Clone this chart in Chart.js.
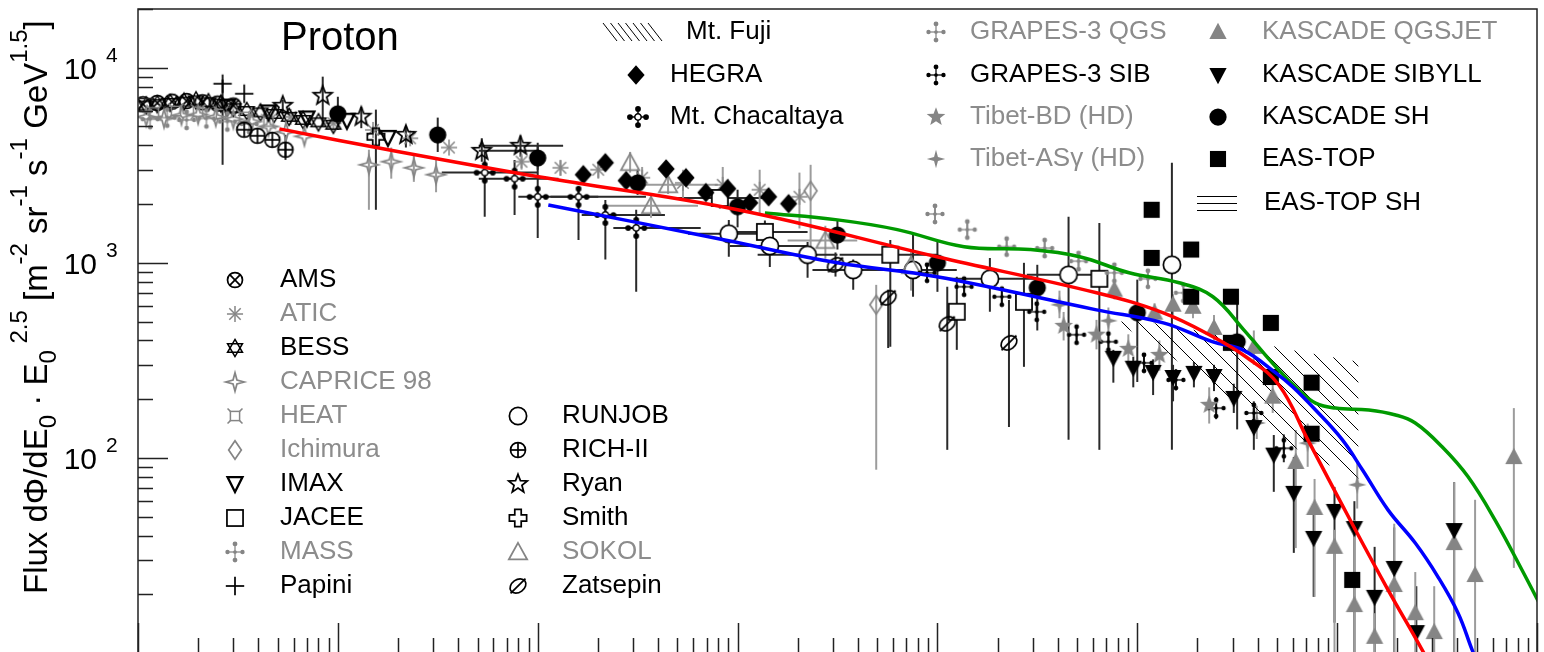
<!DOCTYPE html>
<html>
<head>
<meta charset="utf-8">
<title>Proton flux</title>
<script src="https://cdn.jsdelivr.net/npm/chart.js@4.4.0/dist/chart.umd.min.js"></script>
<style>
  html, body { margin: 0; padding: 0; background: #fff; overflow: hidden; }
  #wrap { position: relative; width: 1544px; height: 700px; }
</style>
</head>
<body>
<div id="wrap"><canvas id="c"></canvas></div>
<script>
// E in GeV, flux = E^2.5 dPhi/dE  [m^-2 sr^-1 s^-1 GeV^1.5]
// rows: [E, flux, fluxLow, fluxHigh, Elow, Ehigh]
const ams = [[10.6,6500],[12.5,6600],[14.8,6700],[17.5,6750],[21,6650],[25,6550],[30,6400]];
const atic = [[58,5600],[95,5200],[150,4800],[230,4350],[360,3900],[830,3300,3050,3550],[1300,3070,2800,3350],[2010,3000,2700,3300],[3330,2730,2350,3100],[5330,2570,2150,3000],[8430,2510,2000,3100],[12900,2370,1800,3000],[20400,2180,1500,2900]];
const bess = [[11,6400],[12.5,6500],[14.5,6600],[17,6700],[19.5,6800],[22.5,6650],[26,6550],[30,6200],[35,6000],[41,5900],[48,5800],[57,5600],[67,5400],[80,5250],[95,5100]];
const caprice = [[11,5600],[13.5,5500],[16.5,5700],[20,5750],[24.5,5600],[30,5450],[37,5300],[45,5000],[55,4700],[68,4450],[143,3180,1870,3800],[185,3300,2700,3900],[240,3070,2600,3650],[310,2830,2300,3400]];
const heat = [[12,5900],[15.5,6000],[20,5950],[26,5800],[34,5600],[45,5300]];
const ichimura = [[23200,2340,1170,3180],[49400,610,87,771]];
const imax = [[28,6300],[45,5900],[70,5500],[111,5350],[178,4370]];
const jacee = [[8150,2150,1900,2400,4650,14200],[13700,1440,1250,1650,9140,22400],[58100,1100,371,1310,32400,99500],[125000,561,358,848],[271000,631,293,1000],[646000,828,110,1600]];
const mass = [[11.5,5450],[14,5550],[17.5,5400],[22,5500],[28,5300],[36,5150]];
const papini = [[26.5,8280,3180,8700],[34,7360]];
const runjob = [[9040,1410,1074,1660,5650,14200],[14500,1220,953,1430,9140,22400],[22400,1100,838,1280,12600,31600],[37900,920,728,1040,23700,54200],[75500,920,670,1430,44600,125000],[183000,828,561,1060,112000,314000],[453000,868,124,1720,280000,700000],[1490000,977,110,3260]];
const rich = [[34,4810],[39.6,4480],[47,4270],[54.7,3800,3370,4530]];
const ryan = [[53,6380,5850,6850],[84,7180,5000,9000],[131,5610,4900,6300],[219,4530,3900,5000],[525,3750,3300,4350,507,1010],[820,3980,3500,4500,507,1340]];
const smith = [[155,4430,1870,6100]];
const sokol = [[2900,3260,2900,3700],[3690,1960,1700,2250,2250,6340],[4490,2510,2250,2850,3180,7960],[27500,1300,1050,1550,17800,39700],[73800,966,720,1150]];
const zatsepin = [[30900,977,850,1130],[56700,662,366,728],[112000,487,110,754],[228000,389,144,645]];
const hegra = [[1690,2830],[2180,3260],[2770,2640],[4390,3030],[5520,2730],[6940,2290],[8930,2400],[11500,2030],[14300,2180],[18000,2010]];
const chacaltaya = [[543,2900,1720,3800,331,1000],[766,2700,1760,3370,507,1270],[1000,2180,1340,4120,800,2010],[1600,2180,1310,2370,1160,3480],[2180,1760,1040,2100,1660,4330],[3110,1510,710,1870,2390,6540]];
const grapesQgs = [[97200,1780,1620,1960],[141000,1480,1350,1620],[222000,1210,1100,1330],[344000,1190,1080,1310],[508000,1020,920,1130],[768000,889,800,990],[1130000,828,740,920],[1700000,702,620,790]];
const grapesSib = [[88700,889,810,975],[136000,754,690,830],[210000,670,610,740],[314000,561,510,620],[497000,428,385,475],[717000,394,355,440],[1080000,307,275,345],[1560000,251,222,285],[2480000,180,158,205],[3830000,170,148,195],[5410000,112,95,132]];
const tibetBd = [[428000,475,400,560],[625000,428,360,510],[902000,362,300,430],[1290000,337,280,400],[2290000,187,150,230]];
const tibetAs = [[408000,610,520,720],[717000,505,430,590],[3960000,151,125,185],[7120000,119,90,150],[12600000,72.8,55,95]];
const kascadeQgs = [[768000,728,650,810],[1220000,555,490,620],[1510000,610,540,690],[1900000,595,520,670],[2420000,464,400,540],[3830000,371,300,450],[4760000,206,170,250],[6210000,95.3,34.5,139],[7710000,55.4,19.4,78],[9700000,35,5,42.8],[12200000,17.6,5,48],[15400000,12.1,5,16],[19300000,22.3,5,46],[24600000,16,5,26],[30600000,12.8,5,22],[38500000,36.6,5,75],[49000000,25.1,5,61],[76600000,101,27.3,180]];
const kascadeSib = [[759000,326,243,358],[955000,290,230,330],[1200000,276,210,320],[1510000,260,195,300],[1920000,273,230,310],[2420000,263,220,300],[3040000,203,170,240],[3830000,144,110,180],[4820000,104,67,131],[6070000,66.2,32.6,101],[7630000,38.9,19.4,54],[9700000,53.5,14.3,71],[12200000,43.7,8,60],[15400000,19.4,5,35],[19300000,27.3,5,44],[24900000,12.8,5,22],[38500000,42.7,5,75]];
const kascadeSh = [[100,5810,4800,7100],[316,4530,3700,5550],[1000,3450,3000,4000],[3160,2570,2230,3000],[10000,1940,1520,2370],[31600,1390,1170,1650],[100000,1000,710,1310],[316000,745,450,977],[1000000,555,245,820],[3160000,394,140,700]];
const easTop = [[1180000,1870],[1180000,1060],[1860000,1170],[1860000,670],[2940000,670],[2940000,389],[4660000,492],[4660000,260],[7450000,243],[7450000,133],[11900000,23.7]];

// model curves
const redE = [51,202,1010,10000,99500,625000,1350000,2390000,3490000,5100000,7130000,12200000,18000000,27000000,30900000];
const redF = [4860,3710,2760,1870,1074,702,554,418,330,237,124,43.7,21,10.1,7.7];
const blueE = [1130,8630,31600,99500,625000,1350000,2390000,3370000,4930000,6000000,7800000,10600000,13400000,18000000,24600000,32000000,40300000,47300000,52000000];
const blueF = [1980,1310,1000,848,574,492,393,358,273,231,176,124,86.7,54,36.6,24.5,16,10.4,8.2];
const greenE = [13700,31600,63000,136000,290000,515000,910000,1620000,2390000,3410000,4930000,6430000,7800000,9820000,14400000,19600000,24600000,33500000,45200000,61700000,84000000,110000000];
const greenF = [1800,1660,1480,1210,1170,1075,889,790,670,453,293,223,191,180,176,166,151,114,80,48,26.7,15.7];

// Mt. Fuji band
const fujiE = [832000,1560000,3010000,5530000,12800000];
const fujiHigh = [523,470,418,362,311];
const fujiLow = [481,318,198,119,77];

const BLACK = '#000000', GRAY = '#858585';

function makeSym(kind, col) {
  const c = document.createElement('canvas');
  c.width = 28; c.height = 28;
  const g = c.getContext('2d');
  g.translate(14, 14);
  g.scale(1.15, 1.15);
  g.strokeStyle = col; g.fillStyle = col; g.lineWidth = 1.5;
  const poly = (p, fill) => {
    g.beginPath();
    p.forEach((q, i) => i ? g.lineTo(q[0], q[1]) : g.moveTo(q[0], q[1]));
    g.closePath();
    fill ? g.fill() : g.stroke();
  };
  const star = (n, ro, ri) => {
    const p = [];
    for (let i = 0; i < 2 * n; i++) {
      const r = i % 2 ? ri : ro, a = -Math.PI / 2 + i * Math.PI / n;
      p.push([r * Math.cos(a), r * Math.sin(a)]);
    }
    return p;
  };
  const seg = (x1, y1, x2, y2) => { g.beginPath(); g.moveTo(x1, y1); g.lineTo(x2, y2); g.stroke(); };
  const dot = (x, y, r) => { g.beginPath(); g.arc(x, y, r, 0, 7); g.fill(); };
  const tri = (r, a0) => [0, 1, 2].map(i => [r * Math.cos(a0 + i * 2 * Math.PI / 3), r * Math.sin(a0 + i * 2 * Math.PI / 3)]);
  switch (kind) {
    case 'circle': dot(0, 0, 7.5); break;
    case 'ocircle': g.beginPath(); g.arc(0, 0, 7.5, 0, 7); g.fillStyle = '#fff'; g.fill(); g.stroke(); break;
    case 'square': g.fillRect(-7, -7, 14, 14); break;
    case 'osquare': g.fillStyle = '#fff'; g.fillRect(-7, -7, 14, 14); g.strokeRect(-7, -7, 14, 14); break;
    case 'diamond': poly([[0, -8.5], [7.5, 0], [0, 8.5], [-7.5, 0]], true); break;
    case 'odiamond': poly([[0, -8], [5.5, 0], [0, 8], [-5.5, 0]]); break;
    case 'triUp': poly([[0, -8], [7.5, 6], [-7.5, 6]], true); break;
    case 'otriUp': poly([[0, -8], [8, 6.5], [-8, 6.5]]); break;
    case 'triDown': poly([[0, 8], [7.5, -6], [-7.5, -6]], true); break;
    case 'otriDown': g.lineWidth = 2; poly([[0, 7], [6.5, -6], [-6.5, -6]]); break;
    case 'ostar': poly(star(5, 8.5, 3.6)); break;
    case 'fstar': poly(star(5, 8.5, 3.6), true); break;
    case 'star4o': poly(star(4, 8, 2.4)); break;
    case 'star4f': poly(star(4, 8, 2.4), true); break;
    case 'asterisk':
      g.lineWidth = 1.3;
      for (let i = 0; i < 4; i++) { const a = i * Math.PI / 4; seg(-7 * Math.cos(a), -7 * Math.sin(a), 7 * Math.cos(a), 7 * Math.sin(a)); }
      break;
    case 'david':
      g.lineWidth = 1.3;
      poly(tri(7.5, -Math.PI / 2)); poly(tri(7.5, Math.PI / 2));
      break;
    case 'plus': seg(-8, 0, 8, 0); seg(0, -8, 0, 8); break;
    case 'otimes':
      g.beginPath(); g.arc(0, 0, 6.5, 0, 7); g.stroke();
      seg(-4.6, -4.6, 4.6, 4.6); seg(-4.6, 4.6, 4.6, -4.6);
      break;
    case 'oplus':
      g.beginPath(); g.arc(0, 0, 6.5, 0, 7); g.stroke();
      seg(-6.5, 0, 6.5, 0); seg(0, -6.5, 0, 6.5);
      break;
    case 'ocross': {
      const a = 2.8, b = 7.5;
      poly([[-a, -b], [a, -b], [a, -a], [b, -a], [b, a], [a, a], [a, b], [-a, b], [-a, a], [-b, a], [-b, -a], [-a, -a]]);
      break;
    }
    case 'oslash':
      g.beginPath(); g.ellipse(0, 0, 7.5, 5.5, -Math.PI / 5, 0, 7); g.stroke();
      seg(-6.5, 6.5, 6.5, -6.5);
      break;
    case 'heat':
      g.lineWidth = 1.3;
      g.strokeRect(-4, -4, 8, 8);
      seg(4, 4, 6.5, 6.5); seg(-4, 4, -6.5, 6.5); seg(4, -4, 6.5, -6.5); seg(-4, -4, -6.5, -6.5);
      break;
    case 'dotcross':
      g.lineWidth = 1.1;
      seg(-7, 0, 7, 0); seg(0, -7.5, 0, 7.5);
      dot(0, -7, 2.1); dot(0, 7, 2.1); dot(-6.5, 0, 1.9); dot(6.5, 0, 1.9); dot(0, 0, 1.6);
      break;
    case 'chacal':
      g.lineWidth = 1.3;
      seg(-8, 0, 8, 0); seg(0, -8, 0, 8);
      dot(0, -7, 2.5); dot(0, 7, 2.5); dot(-7, 0, 2.5); dot(7, 0, 2.5);
      g.beginPath(); g.arc(0, 0, 2.8, 0, 7); g.fillStyle = '#fff'; g.fill(); g.stroke();
      break;
  }
  return c;
}

const SERIES = [
  ['AMS', ams, 'otimes', BLACK],
  ['ATIC', atic, 'asterisk', GRAY],
  ['BESS', bess, 'david', BLACK],
  ['CAPRICE 98', caprice, 'star4o', GRAY],
  ['HEAT', heat, 'heat', GRAY],
  ['Ichimura', ichimura, 'odiamond', GRAY],
  ['IMAX', imax, 'otriDown', BLACK],
  ['JACEE', jacee, 'osquare', BLACK],
  ['MASS', mass, 'dotcross', GRAY],
  ['Papini', papini, 'plus', BLACK],
  ['RUNJOB', runjob, 'ocircle', BLACK],
  ['RICH-II', rich, 'oplus', BLACK],
  ['Ryan', ryan, 'ostar', BLACK],
  ['Smith', smith, 'ocross', BLACK],
  ['SOKOL', sokol, 'otriUp', GRAY],
  ['Zatsepin', zatsepin, 'oslash', BLACK],
  ['HEGRA', hegra, 'diamond', BLACK],
  ['Mt. Chacaltaya', chacaltaya, 'chacal', BLACK],
  ['GRAPES-3 QGS', grapesQgs, 'dotcross', GRAY],
  ['GRAPES-3 SIB', grapesSib, 'dotcross', BLACK],
  ['Tibet-BD (HD)', tibetBd, 'fstar', GRAY],
  ['Tibet-ASγ (HD)', tibetAs, 'star4f', GRAY],
  ['KASCADE QGSJET', kascadeQgs, 'triUp', GRAY],
  ['KASCADE SIBYLL', kascadeSib, 'triDown', BLACK],
  ['KASCADE SH', kascadeSh, 'circle', BLACK],
  ['EAS-TOP', easTop, 'square', BLACK]
];

const symbols = {};
SERIES.forEach(s => { symbols[s[0]] = makeSym(s[2], s[3]); });

const zip = (xs, ys) => xs.map((v, i) => ({ x: v, y: ys[i] }));

// hatch pattern for the Mt. Fuji band
const tile = document.createElement('canvas');
tile.width = 16; tile.height = 16;
const tg = tile.getContext('2d');
tg.strokeStyle = '#000'; tg.lineWidth = 1;
for (let k = -1; k <= 1; k++) { tg.beginPath(); tg.moveTo(k * 16, 0); tg.lineTo(k * 16 + 16, 16); tg.stroke(); }
const hatch = tg.createPattern(tile, 'repeat');

const datasets = [
  { type: 'line', label: 'red', data: zip(redE, redF), borderColor: '#ff0000', borderWidth: 3.5, pointRadius: 0, tension: 0.4, fill: false },
  { type: 'line', label: 'blue', data: zip(blueE, blueF), borderColor: '#0000ff', borderWidth: 3.5, pointRadius: 0, tension: 0.4, fill: false },
  { type: 'line', label: 'green', data: zip(greenE, greenF), borderColor: '#009a00', borderWidth: 3.5, pointRadius: 0, tension: 0.4, fill: false }
];
SERIES.slice().reverse().forEach(s => {
  datasets.push({
    label: s[0],
    data: s[1].map(r => ({ x: r[0], y: r[1], lo: r[2], hi: r[3], xl: r[4], xh: r[5] })),
    pointStyle: symbols[s[0]],
    pointRadius: 6,
    showLine: false,
    errColor: s[3] === BLACK ? '#2a2a2a' : '#9c9c9c'
  });
});
datasets.push(
  { type: 'line', label: 'Mt. Fuji', data: zip(fujiE, fujiHigh), borderWidth: 0, pointRadius: 0, tension: 0, fill: '+1', backgroundColor: hatch },
  { type: 'line', label: 'Mt. Fuji low', data: zip(fujiE, fujiLow), borderWidth: 0, pointRadius: 0, tension: 0, fill: false }
);

const FONT = '"Liberation Sans", Arial, Helvetica, sans-serif';

const errorBars = {
  id: 'errorBars',
  beforeDatasetsDraw(chart) {
    const { ctx, chartArea: a, scales: { x, y } } = chart;
    ctx.save();
    ctx.beginPath(); ctx.rect(a.left, a.top, a.right - a.left, a.bottom - a.top); ctx.clip();
    ctx.lineWidth = 2;
    chart.data.datasets.forEach(ds => {
      if (!ds.errColor) return;
      ctx.strokeStyle = ds.errColor;
      ds.data.forEach(p => {
        const px = x.getPixelForValue(p.x), py = y.getPixelForValue(p.y);
        ctx.beginPath();
        if (p.lo != null) { ctx.moveTo(px, y.getPixelForValue(p.lo)); ctx.lineTo(px, y.getPixelForValue(p.hi)); }
        if (p.xl != null) { ctx.moveTo(x.getPixelForValue(p.xl), py); ctx.lineTo(x.getPixelForValue(p.xh), py); }
        ctx.stroke();
      });
    });
    ctx.restore();
  }
};

const frame = {
  id: 'frame',
  afterDraw(chart) {
    const { ctx, chartArea: a, scales: { x, y } } = chart;
    ctx.save();
    ctx.strokeStyle = '#222'; ctx.lineWidth = 1.5;
    ctx.strokeRect(a.left, a.top, a.right - a.left, a.bottom - a.top);
    ctx.beginPath();
    for (let d = 1; d <= 4; d++) for (let k = 1; k <= 9; k++) {
      const v = k * Math.pow(10, d);
      if (v > y.max) break;
      const py = Math.round(y.getPixelForValue(v)) + 0.5;
      ctx.moveTo(a.left, py); ctx.lineTo(a.left + (k === 1 ? 30 : 15), py);
    }
    for (let d = 1; d <= 8; d++) for (let k = 1; k <= 9; k++) {
      const v = k * Math.pow(10, d);
      if (v > x.max) break;
      const px = Math.round(x.getPixelForValue(v)) + 0.5;
      ctx.moveTo(px, a.bottom); ctx.lineTo(px, a.bottom - (k === 1 ? 30 : 15));
    }
    ctx.stroke();

    // y tick labels
    ctx.fillStyle = '#000';
    ctx.textBaseline = 'alphabetic';
    [2, 3, 4].forEach(d => {
      const py = y.getPixelForValue(Math.pow(10, d));
      ctx.font = '30px ' + FONT; ctx.textAlign = 'right';
      ctx.fillText('10', 97, py + 11);
      ctx.font = '21px ' + FONT; ctx.textAlign = 'left';
      ctx.fillText(String(d), 106, py - 6);
    });

    // y axis title
    const parts = [['Flux dΦ/dE', 'n'], ['0', 'sub'], [' · E', 'n'], ['0', 'sub'], [' 2.5', 'sup'], [' [m', 'n'], ['-2', 'sup'], [' sr', 'n'], ['-1', 'sup'], [' s', 'n'], ['-1', 'sup'], [' GeV', 'n'], ['1.5', 'sup'], [']', 'n']];
    ctx.save();
    ctx.translate(47, 594);
    ctx.rotate(-Math.PI / 2);
    ctx.textAlign = 'left';
    let tx = 0;
    parts.forEach(([t, k]) => {
      ctx.font = (k === 'n' ? '33px ' : '24px ') + FONT;
      const dy = k === 'sub' ? 9 : (k === 'sup' ? -20 : 0);
      ctx.fillText(t, tx, dy);
      tx += ctx.measureText(t).width;
    });
    ctx.restore();

    // title
    ctx.font = '40px ' + FONT; ctx.textAlign = 'left'; ctx.textBaseline = 'middle';
    ctx.fillText('Proton', 281, 39);

    // legends
    const entry = (name, sx, tx, ty) => {
      const s = SERIES.find(r => r[0] === name);
      const img = symbols[name];
      ctx.drawImage(img, sx - img.width / 2, ty - img.height / 2);
      ctx.fillStyle = s[3] === BLACK ? '#000' : '#8c8c8c';
      ctx.fillText(name, tx, ty);
    };
    ctx.font = '26px ' + FONT; ctx.textBaseline = 'middle';
    ['AMS', 'ATIC', 'BESS', 'CAPRICE 98', 'HEAT', 'Ichimura', 'IMAX', 'JACEE', 'MASS', 'Papini']
      .forEach((n, i) => entry(n, 235, 280, 280 + i * 34));
    ['RUNJOB', 'RICH-II', 'Ryan', 'Smith', 'SOKOL', 'Zatsepin']
      .forEach((n, i) => entry(n, 518, 562, 416 + i * 34));
    const rows = [32, 75, 117, 159, 203];
    entry('HEGRA', 636, 670, rows[1]);
    entry('Mt. Chacaltaya', 638, 670, rows[2]);
    ['GRAPES-3 QGS', 'GRAPES-3 SIB', 'Tibet-BD (HD)', 'Tibet-ASγ (HD)'].forEach((n, i) => entry(n, 936, 970, rows[i]));
    ['KASCADE QGSJET', 'KASCADE SIBYLL', 'KASCADE SH', 'EAS-TOP'].forEach((n, i) => entry(n, 1218, 1262, rows[i]));

    ctx.fillStyle = '#000';
    ctx.fillText('Mt. Fuji', 686, rows[0]);
    ctx.fillText('EAS-TOP SH', 1264, rows[4]);
    ctx.strokeStyle = '#000'; ctx.lineWidth = 1;
    ctx.beginPath();
    for (let i = 0; i < 7; i++) { ctx.moveTo(603 + i * 7.5, 23); ctx.lineTo(617 + i * 7.5, 41); }
    [196, 203, 210].forEach(v => { ctx.moveTo(1197, v + 0.5); ctx.lineTo(1237, v + 0.5); });
    ctx.stroke();
    ctx.restore();
  }
};

new Chart(document.getElementById('c'), {
  type: 'scatter',
  data: { datasets },
  options: {
    responsive: true,
    maintainAspectRatio: false,
    animation: false,
    events: [],
    layout: { padding: { left: 138, top: 9, right: 2, bottom: 47 } },
    scales: {
      x: { type: 'logarithmic', min: 10, max: 1e8, display: false },
      y: { type: 'logarithmic', min: 10, max: 2e4, display: false }
    },
    plugins: { legend: { display: false }, tooltip: { enabled: false } }
  },
  plugins: [errorBars, frame]
});
</script>
</body>
</html>
